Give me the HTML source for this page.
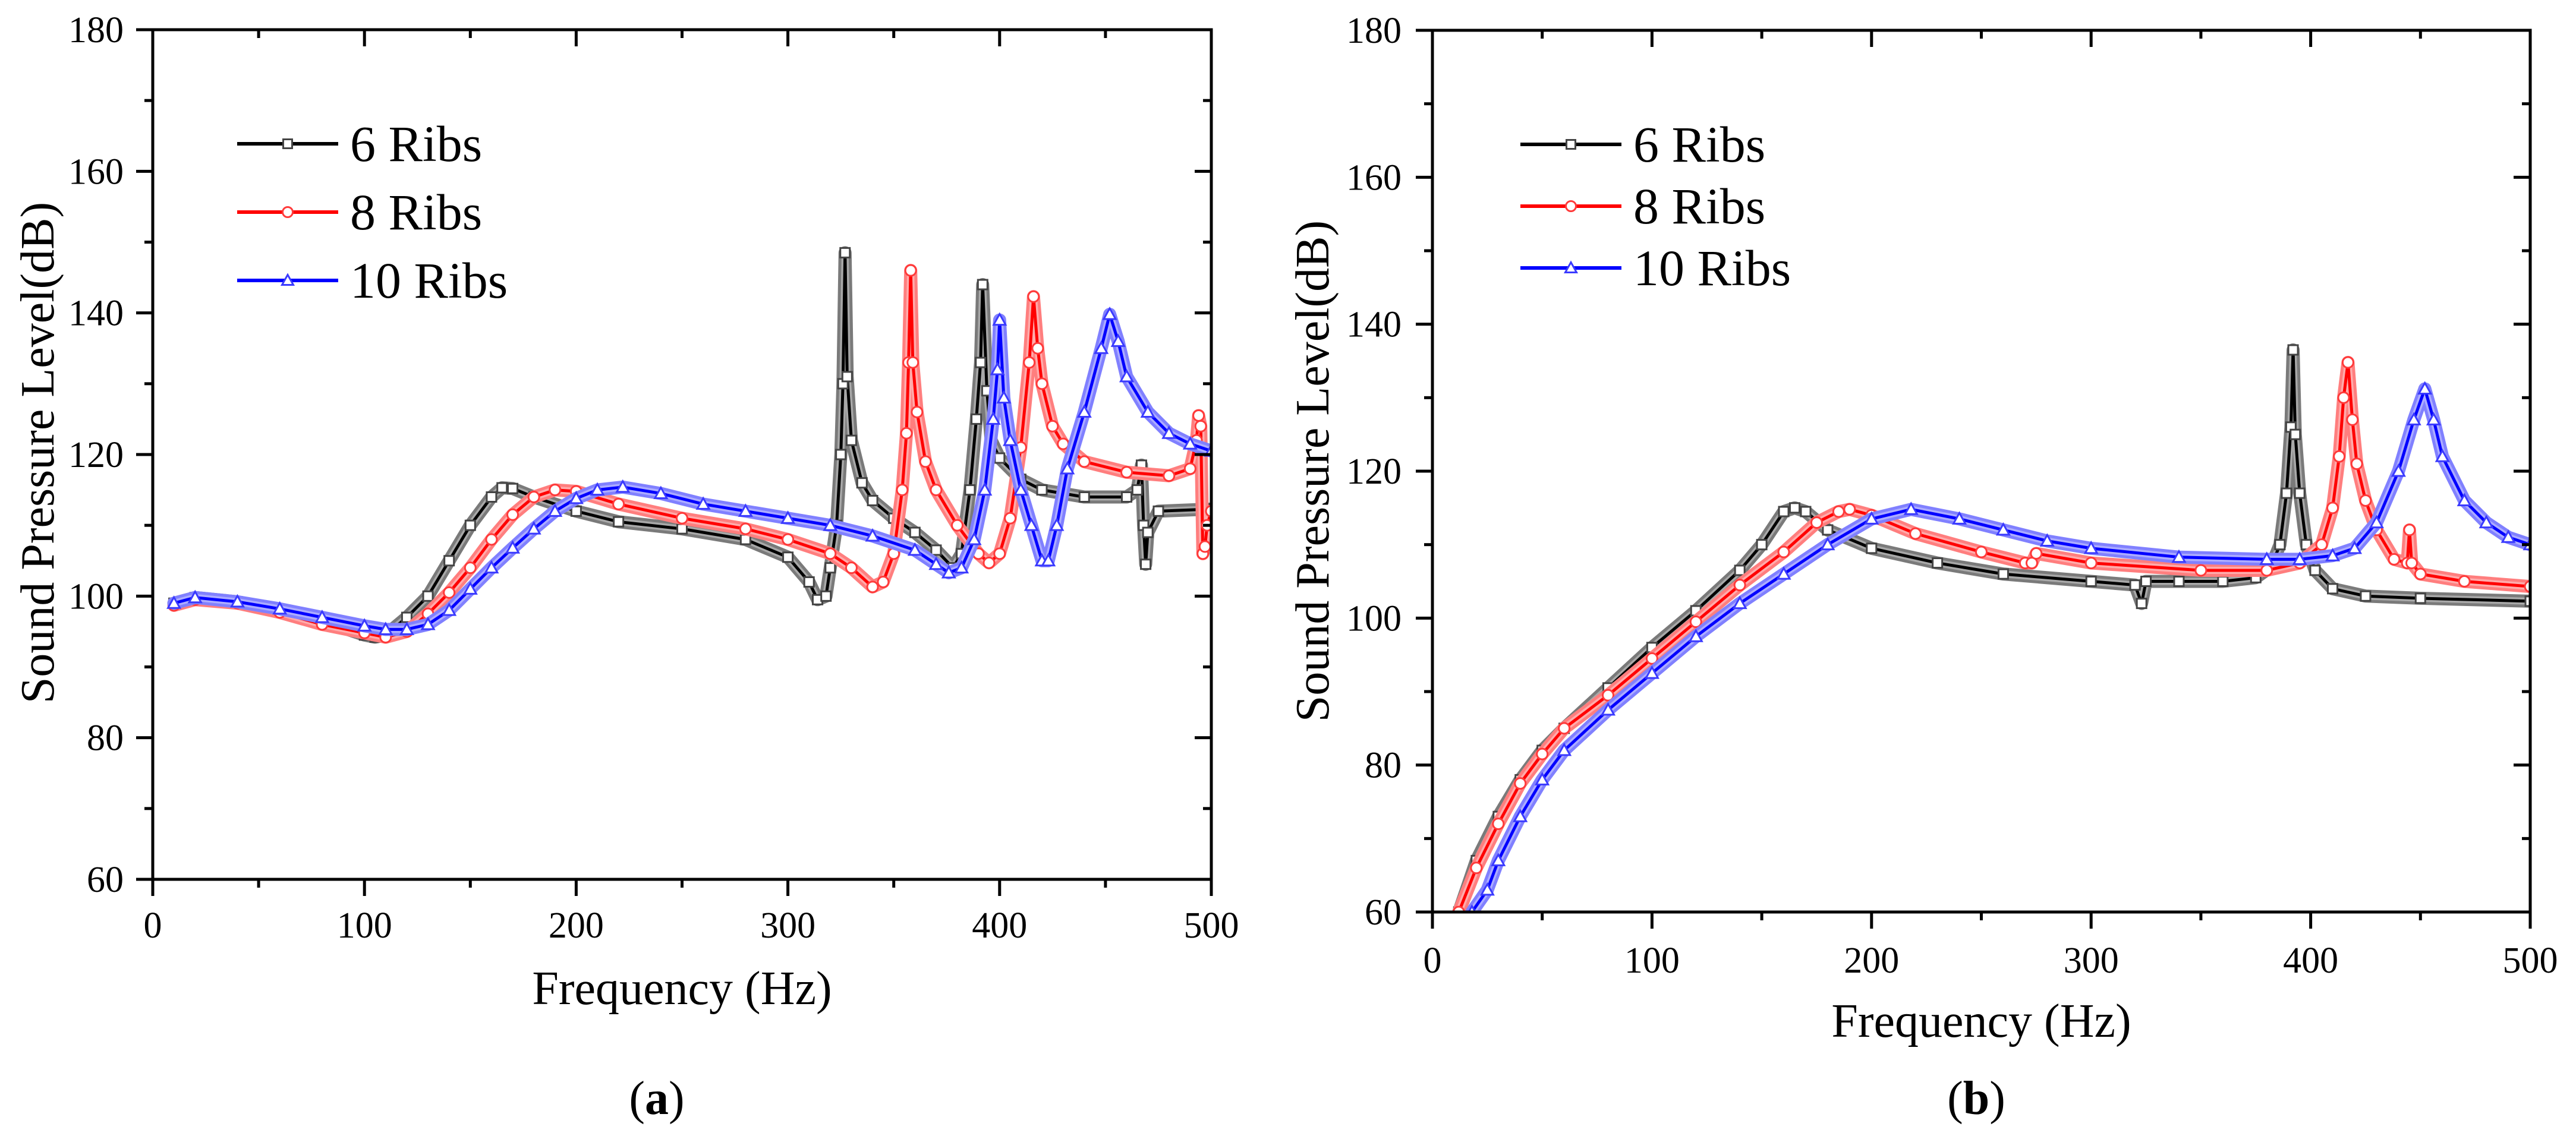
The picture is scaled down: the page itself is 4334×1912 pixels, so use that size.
<!DOCTYPE html>
<html><head><meta charset="utf-8"><style>
html,body{margin:0;padding:0;background:#fff;}
svg{display:block;font-family:"Liberation Serif",serif;}
</style></head>
<body>
<svg id="fig" width="4334" height="1912" viewBox="0 0 4334 1912" xmlns="http://www.w3.org/2000/svg"></svg>
<script>
// ---- data (panel a) ----
const aBlackX=[10,20,40,60,80,100,105,110,120,130,140,150,160,165,170,180,200,220,250,280,300,310,314,318,320,323,325,326,327,328,330,335,340,350,360,370,378,382,386,389,391,392,394,396,400,410,420,440,460,465,467,468,469,470,475,500];
const aBlackY=[99,99.8,99.2,98,96.5,94.5,94.2,94.5,97,100,105,110,114,115.3,115.2,114,112,110.5,109.5,108,105.5,102,99.5,100,104,110,120,130,148.5,131,122,116,113.5,111,109,106.5,104,106,115,125,133,144,129,122,119.5,116.5,115,114,114,115,118.5,110,104.5,109,112,112.3];
const aRedX=[10,20,40,60,80,100,110,120,130,140,150,160,170,180,190,200,220,250,280,300,320,330,340,345,350,354,356,357,358,359,361,365,370,380,390,395,400,405,410,414,416,418,420,425,430,440,460,480,490,493,494,495,496,497,498,500];
const aRedY=[98.7,99.5,99,97.7,96,94.8,94.2,95,97.5,100.5,104,108,111.5,114,115,114.8,113,111,109.5,108,106,104,101.3,102,106,115,123,133,146,133,126,119,115,110,106,104.7,106,111,121,133,142.3,135,130,124,121.5,119,117.5,117,118,122,125.5,124,106,107,110,112];
const aBlueX=[10,20,40,60,80,100,110,120,130,140,150,160,170,180,190,200,210,222,240,260,280,300,320,340,360,370,376,382,388,393,397,399,400,402,405,410,415,420,423,427,432,440,448,452,456,460,470,480,490,500];
const aBlueY=[99,99.8,99.2,98.2,97,95.8,95.3,95.3,96,98,101,104,106.8,109.5,112,113.8,115,115.4,114.5,113,112,111,110,108.5,106.5,104.5,103.3,104,108,115,125,132,139,128,122,115,110,105,105,110,118,126,135,139.8,136,131,126,123,121.5,120.5];
// ---- data (panel b) ----
const bBlackX=[12,20,30,40,50,60,80,100,120,140,150,160,165,170,180,200,230,260,300,320,323,325,340,360,375,382,386,389,391,392,393,395,398,402,410,425,450,500];
const bBlackY=[60,67,73,78,82,85,90.5,96,101,106.5,110,114.5,115,114.5,112,109.5,107.5,106,105,104.5,102,105,105,105,105.5,107,110,117,126,136.5,125,117,110,106.5,104,103,102.7,102.3];
const bRedX=[12,20,30,40,50,60,80,100,120,140,160,175,185,190,200,220,250,270,273,275,300,350,380,395,405,410,413,415,417,419,421,425,430,438,444,445,446,450,470,500];
const bRedY=[60,66,72,77.5,81.5,85,89.5,94.5,99.5,104.5,109,113,114.5,114.8,114,111.5,109,107.5,107.5,108.8,107.5,106.5,106.5,107.5,110,115,122,130,134.8,127,121,116,112,108,107.5,112,107.5,106,105,104.3];
const bBlueX=[18,25,30,40,50,60,80,100,120,140,160,180,200,218,240,260,280,300,340,380,395,410,420,430,440,447,452,456,460,470,480,490,500];
const bBlueY=[60,63,67,73,78,82,87.5,92.5,97.5,102,106,110,113.5,114.8,113.5,112,110.5,109.5,108.3,108,108,108.5,109.5,113,120,127,131.2,127,122,116,113,111,110];
// ticks
const xTicks=[0,100,200,300,400,500];
const yTicks=[60,80,100,120,140,160,180];
const seriesNames=["6 Ribs","8 Ribs","10 Ribs"];

const NS="http://www.w3.org/2000/svg";
const svg=document.getElementById('fig');
function mk(tag,attrs,parent){const e=document.createElementNS(NS,tag);for(const k in attrs)e.setAttribute(k,attrs[k]);(parent||svg).appendChild(e);return e;}

const styles=[
 {line:'#000',band:'#7a7a7a',mk:'#444',shape:'sq'},
 {line:'#ff0000',band:'#ff7e7e',mk:'#ff3a3a',shape:'ci'},
 {line:'#0000ff',band:'#8080ff',mk:'#3a3aff',shape:'tr'}
];

function marker(g,shape,x,y,col,s){
  let e;
  if(shape==='sq'){e=mk('rect',{x:x-s/2,y:y-s/2,width:s,height:s,fill:'#fff',stroke:col,'stroke-width':3},g);}
  else if(shape==='ci'){e=mk('circle',{cx:x,cy:y,r:s/2+1,fill:'#fff',stroke:col,'stroke-width':3},g);}
  else {e=mk('polygon',{points:`${x},${y-s/2-2} ${x-s/2-2},${y+s/2} ${x+s/2+2},${y+s/2}`,fill:'#fff',stroke:col,'stroke-width':3},g);}
  return e;
}

function panel(P){
  const g=mk('g',{});
  
  
  const sx=v=>P.x0+(v-0)/500*(P.x1-P.x0);
  const sy=v=>P.y1-(v-60)/120*(P.y1-P.y0);
  P.series.forEach((s,i)=>{
    const st=styles[i];
    const sg=mk('g',{'clip-path':`url(#${P.clip})`},g);
    
    
    const pts=s.x.map((v,k)=>sx(v)+','+sy(s.y[k])).join(' ');
    mk('polyline',{points:pts,fill:'none',stroke:st.band,'stroke-width':22,'stroke-linejoin':'round','stroke-linecap':'round'},sg);
    mk('polyline',{points:pts,fill:'none',stroke:'#fff','stroke-width':12,'stroke-linejoin':'round','stroke-linecap':'round','opacity':0.35},sg);
    mk('polyline',{points:pts,fill:'none',stroke:st.line,'stroke-width':5,'stroke-linejoin':'round'},sg);
    s.x.forEach((v,k)=>{
      const m=marker(sg,st.shape,sx(v),sy(s.y[k]),st.mk,16);
      
      
    });
  });
  const fr=mk('rect',{x:P.x0,y:P.y0,width:P.x1-P.x0,height:P.y1-P.y0,fill:'none',stroke:'#000','stroke-width':5},g);
  
  
  for(let v=0;v<=500;v+=50){
    const X=sx(v),len=(v%100===0)?28:14;
    mk('line',{x1:X,y1:P.y1,x2:X,y2:P.y1+len,stroke:'#000','stroke-width':5},g);
    mk('line',{x1:X,y1:P.y0,x2:X,y2:P.y0+len,stroke:'#000','stroke-width':5},g);
  }
  xTicks.forEach(v=>{
    const t=mk('text',{x:sx(v),y:P.xlabY,'font-size':62,'text-anchor':'middle'},g);
    t.textContent=v;
    
    
  });
  for(let v=60;v<=180;v+=10){
    const Y=sy(v),len=(v%20===0)?28:14;
    mk('line',{x1:P.x0-len,y1:Y,x2:P.x0,y2:Y,stroke:'#000','stroke-width':5},g);
    mk('line',{x1:P.x1-len,y1:Y,x2:P.x1,y2:Y,stroke:'#000','stroke-width':5},g);
  }
  yTicks.forEach(v=>{
    const t=mk('text',{x:P.ylabX,y:sy(v)+21,'font-size':62,'text-anchor':'end'},g);
    t.textContent=v;
    
    
  });
  const xt=mk('text',{x:(P.x0+P.x1)/2,y:P.xtitY,'font-size':80,'text-anchor':'middle'},g);
  xt.textContent='Frequency (Hz)';
  
  
  const yt=mk('text',{x:0,y:0,'font-size':80,'text-anchor':'middle',transform:`translate(${P.ytitX},${P.ytitY}) rotate(-90)`},g);
  yt.textContent='Sound Pressure Level(dB)';
  
  
  const cap=mk('text',{x:P.capX,y:P.capY,'font-size':80,'text-anchor':'middle'},g);
  cap.innerHTML='(<tspan font-weight="bold">'+P.cap+'</tspan>)';
  
  
  const lg=mk('g',{},g);
  
  
  P.legRows.forEach((ry,i)=>{
    const st=styles[i];
    const eg=mk('g',{},lg);
    
    
    mk('line',{x1:P.legX,y1:ry,x2:P.legX+170,y2:ry,stroke:st.line,'stroke-width':6},eg);
    marker(eg,st.shape,P.legX+85,ry,st.mk,15);
    const t=mk('text',{x:P.legX+190,y:ry+29,'font-size':86},eg);
    t.textContent=seriesNames[i];
  });
}

const defs=mk('defs',{});
const c1=mk('clipPath',{id:'clipA'},defs);mk('rect',{x:257,y:50,width:1781,height:1430},c1);
const c2=mk('clipPath',{id:'clipB'},defs);mk('rect',{x:2410,y:51,width:1847,height:1484},c2);

panel({name:'panel-a',clip:'clipA',x0:257,x1:2038,y0:50,y1:1480,xlabY:1578,ylabX:208,xtitY:1690,ytitX:90,ytitY:762,capX:1105,capY:1875,cap:'a',legX:399,legRows:[242,357,472],
  series:[{x:aBlackX,y:aBlackY},{x:aRedX,y:aRedY},{x:aBlueX,y:aBlueY}]});
panel({name:'panel-b',clip:'clipB',x0:2410,x1:4257,y0:51,y1:1535,xlabY:1637,ylabX:2358,xtitY:1745,ytitX:2235,ytitY:793,capX:3325,capY:1875,cap:'b',legX:2558,legRows:[243,347,451],
  series:[{x:bBlackX,y:bBlackY},{x:bRedX,y:bRedY},{x:bBlueX,y:bBlueY}]});
</script>
</body></html>
